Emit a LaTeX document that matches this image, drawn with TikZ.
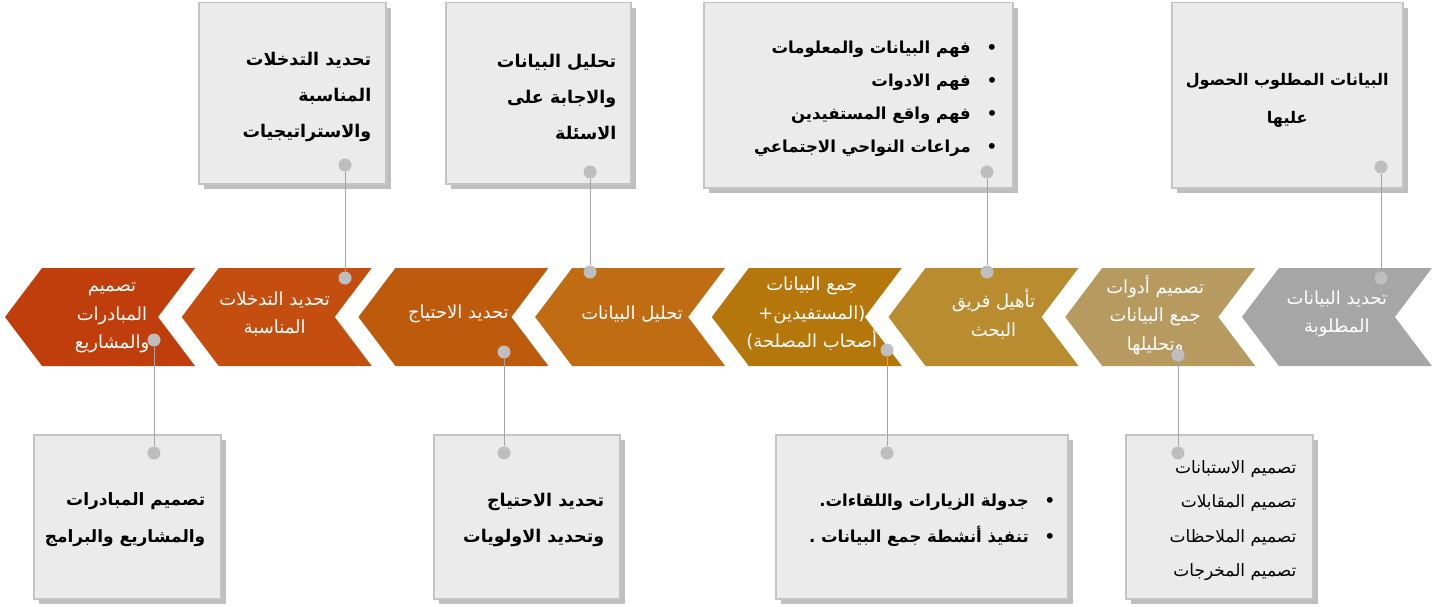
\documentclass[tikz,border=0pt]{standalone}
\usepackage{fontspec}
\newfontfamily\arfont[Script=Arabic]{DejaVu Sans}
\TeXXeTstate=1
\usetikzlibrary{positioning, shadows}
\newcommand{\rl}[1]{\beginR #1\endR}
\newcommand{\bul}[1]{\beginR •\hspace{16pt}#1\endR}

\definecolor{chevA}{RGB}{192,62,12}
\definecolor{chevB}{RGB}{196,78,16}
\definecolor{chevC}{RGB}{190,90,12}
\definecolor{chevD}{RGB}{191,108,18}
\definecolor{chevE}{RGB}{181,118,12}
\definecolor{chevF}{RGB}{186,140,48}
\definecolor{chevG}{RGB}{183,154,96}
\definecolor{chevH}{RGB}{166,166,166}
\definecolor{boxfill}{RGB}{235,235,235}
\definecolor{boxline}{RGB}{196,196,196}
\definecolor{dotgray}{RGB}{190,190,190}
\definecolor{linegray}{RGB}{165,165,165}

\tikzset{
    chevtxt/.style={font=\arfont\fontsize{18}{28.5}\selectfont, text=white, align=center, inner sep=0pt},
    notebox/.style={draw=boxline, line width=1.5pt, fill=boxfill, anchor=north west, inner sep=0pt,
        drop shadow={shadow xshift=5pt, shadow yshift=-5pt, fill=black!50}},
    notetxt/.style={font=\arfont\bfseries\fontsize{17.5}{36}\selectfont, text=black, align=right, inner sep=0pt, anchor=east},
    pindot/.style={circle, fill=dotgray, inner sep=0pt, minimum size=13pt},
    link/.style={draw=linegray, line width=0.9pt}
}

\begin{document}
\begin{tikzpicture}[x=1pt, y=-1pt]
    \useasboundingbox (0,0) rectangle (1447,607);

    % boxes above the row
    \node[notebox, minimum width=187pt, minimum height=181pt] (t1) at (198,2) {};
    \node[notebox, minimum width=185pt, minimum height=181pt] (t2) at (445,2) {};
    \node[notebox, minimum width=309pt, minimum height=185pt] (t3) at (703,2) {};
    \node[notebox, minimum width=231pt, minimum height=185pt] (t4) at (1171,2) {};

    % boxes below the row
    \node[notebox, minimum width=187pt, minimum height=164pt] (b1) at (33,434) {};
    \node[notebox, minimum width=186pt, minimum height=164pt] (b2) at (433,434) {};
    \node[notebox, minimum width=292pt, minimum height=164pt] (b3) at (775,434) {};
    \node[notebox, minimum width=187pt, minimum height=164pt] (b4) at (1125,434) {};

    \node[notetxt, left=15pt of t1.east, yshift=-4pt] (t1txt) {\rl{تحديد التدخلات}\\\rl{المناسبة}\\\rl{والاستراتيجيات}};
    \node[notetxt, left=15pt of t2.east, yshift=-4pt] (t2txt) {\rl{تحليل البيانات}\\\rl{والاجابة على}\\\rl{الاسئلة}};
    \node[notetxt, font=\arfont\bfseries\fontsize{16.5}{33}\selectfont, left=16pt of t3.east, yshift=-3pt] (t3txt)
        {\bul{فهم البيانات والمعلومات}\\\bul{فهم الادوات}\\\bul{فهم واقع المستفيدين}\\\bul{مراعات النواحي الاجتماعي}};
    \node[notetxt, font=\arfont\bfseries\fontsize{16}{38}\selectfont, align=center, anchor=center, yshift=-5pt] (t4txt) at (t4.center)
        {\rl{البيانات المطلوب الحصول}\\\rl{عليها}};
    \node[notetxt, font=\arfont\bfseries\fontsize{17}{37}\selectfont, left=16pt of b1.east, yshift=-3pt] (b1txt)
        {\rl{تصميم المبادرات}\\\rl{والمشاريع والبرامج}};
    \node[notetxt, left=16pt of b2.east, yshift=-3pt] (b2txt) {\rl{تحديد الاحتياج}\\\rl{وتحديد الاولويات}};
    \node[notetxt, font=\arfont\bfseries\fontsize{16.5}{36}\selectfont, left=13pt of b3.east, yshift=-3pt] (b3txt)
        {\bul{جدولة الزيارات واللقاءات.}\\\bul{تنفيذ أنشطة جمع البيانات .}};
    \node[notetxt, font=\arfont\fontsize{17}{34.5}\selectfont, left=17pt of b4.east, yshift=-4pt] (b4txt)
        {\rl{تصميم الاستبانات}\\\rl{تصميم المقابلات}\\\rl{تصميم الملاحظات}\\\rl{تصميم المخرجات}};

    % chevron row
    \foreach \i/\col/\dx/\dy/\txt in {
        1/chevA/107/318/{\rl{تصميم}\\\rl{المبادرات}\\\rl{والمشاريع}},
        2/chevB/93/314/{\rl{تحديد التدخلات}\\\rl{المناسبة}},
        3/chevC/100/314/{\rl{تحديد الاحتياج}},
        4/chevD/97/314/{\rl{تحليل البيانات}},
        5/chevE/100/314/{\rl{جمع البيانات}\\\rl{(المستفيدين+}\\\rl{أصحاب المصلحة)}},
        6/chevF/105/314/{\rl{تأهيل فريق}\\\rl{البحث}},
        7/chevG/90/315/{\rl{تصميم أدوات}\\\rl{جمع البيانات}\\\rl{وتحليلها}},
        8/chevH/95/314/{\rl{تحديد البيانات}\\\rl{المطلوبة}}}{
        \pgfmathsetmacro\xa{5+176.7*(\i-1)}
        \fill[\col] (\xa,317) -- ++(37,-49) -- ++(153,0) -- ++(-37,49) -- ++(37,49) -- ++(-153,0) -- cycle;
        \node[chevtxt] (c\i) at (\xa+\dx,\dy) {\txt};
    }

    % pins on the row
    \node[pindot] (p1) at (154,340) {};
    \node[pindot] (p2) at (345,278) {};
    \node[pindot] (p3) at (504,352) {};
    \node[pindot] (p4) at (590,272) {};
    \node[pindot] (p5) at (887,350) {};
    \node[pindot] (p6) at (987,272) {};
    \node[pindot] (p7) at (1178,355) {};
    \node[pindot] (p8) at (1381,278) {};

    % pins on the boxes
    \node[pindot] (t1pin) at (345,165) {};
    \node[pindot] (t2pin) at (590,172) {};
    \node[pindot] (t3pin) at (987,172) {};
    \node[pindot] (t4pin) at (1381,167) {};
    \node[pindot] (b1pin) at (154,453) {};
    \node[pindot] (b2pin) at (504,453) {};
    \node[pindot] (b3pin) at (887,453) {};
    \node[pindot] (b4pin) at (1178,453) {};

    \draw[link] (p2) -- (t1pin);
    \draw[link] (p4) -- (t2pin);
    \draw[link] (p6) -- (t3pin);
    \draw[link] (p8) -- (t4pin);
    \draw[link] (p1) -- (b1pin);
    \draw[link] (p3) -- (b2pin);
    \draw[link] (p5) -- (b3pin);
    \draw[link] (p7) -- (b4pin);
\end{tikzpicture}
\end{document}
